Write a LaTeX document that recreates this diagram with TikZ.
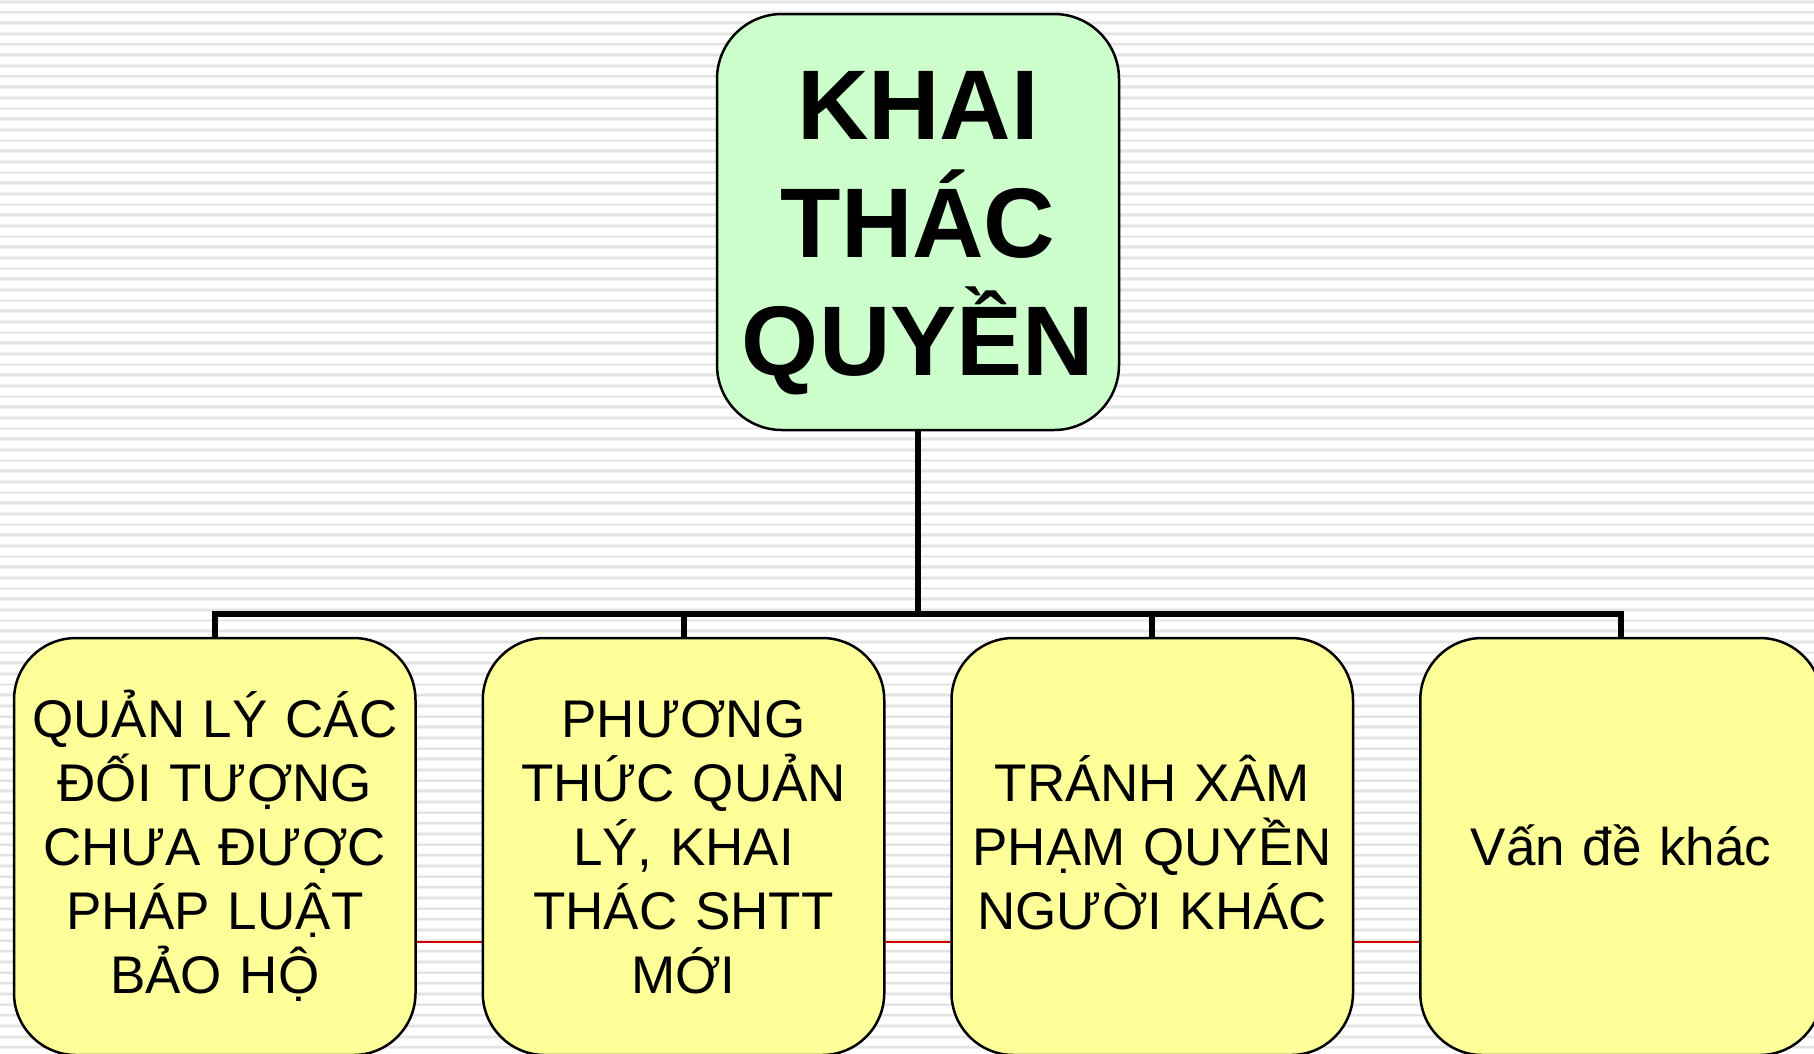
\documentclass[tikz,border=0pt]{standalone}
\usepackage{fontspec}
\setmainfont{Liberation Sans}
\definecolor{boxgreen}{HTML}{CCFFCC}
\definecolor{boxyellow}{HTML}{FFFF99}
\definecolor{redrule}{HTML}{CC0000}
\newcommand\lstr{\rule[-18pt]{0pt}{74pt}}
\newcommand\tstr{\rule[-36pt]{0pt}{143pt}}
\newcommand\nolsk{\lineskiplimit=-300pt\relax}
\pgfdeclarelayer{stripes}
\pgfdeclarelayer{links}
\pgfsetlayers{stripes,links,main}
\tikzset{
  stripehalo/.style={draw=black!5, line width=3.6pt},
  stripecore/.style={draw=black!11, line width=1.8pt},
  topbox/.style={draw=black, fill=boxgreen, line width=2.5pt, rounded corners=65pt,
    minimum width=402pt, minimum height=416pt, inner sep=0pt, text width=395pt, align=center,
    font=\fontsize{99}{118}\selectfont\bfseries\nolsk},
  subbox/.style={draw=black, fill=boxyellow, line width=2.5pt, rounded corners=62pt,
    minimum width=401.5pt, minimum height=417pt, inner sep=0pt, text width=395pt, align=center,
    font=\fontsize{53}{64}\selectfont\nolsk},
  conn/.style={draw=black, line width=6pt},
  redline/.style={draw=redrule, line width=2pt}
}
\begin{document}
\begin{tikzpicture}[x=1pt,y=-1pt]
\useasboundingbox (0,0) rectangle (1814,1053);
\clip (0,0) rectangle (1814,1053);
\begin{pgfonlayer}{stripes}
\fill[white] (0,0) rectangle (1814,1053);
\foreach \i in {0,...,99}{
  \draw[stripehalo] (0,1.7+\i*10.67) -- (1814,1.7+\i*10.67);
  \draw[stripecore] (0,1.7+\i*10.67) -- (1814,1.7+\i*10.67);
}
\end{pgfonlayer}
\coordinate (bus) at (918,614);
\coordinate (rl) at (0,942);
% boxes
\node[topbox] (top) at (918,222) {\tstr KHAI\\\tstr THÁC\\\tstr QUYỀN};
\node[subbox] (b1) at (214.75,846.5) {\lstr QUẢN LÝ CÁC\\\lstr ĐỐI TƯỢNG\\\lstr CHƯA ĐƯỢC\\\lstr PHÁP LUẬT\\\lstr BẢO HỘ};
\node[subbox] (b2) at (683.5,846.5) {\lstr PHƯƠNG\\\lstr THỨC QUẢN\\\lstr LÝ, KHAI\\\lstr THÁC SHTT\\\lstr MỚI};
\node[subbox] (b3) at (1152.25,846.5) {\lstr TRÁNH XÂM\\\lstr PHẠM QUYỀN\\\lstr NGƯỜI KHÁC};
\node[subbox] (b4) at (1621,846.5) {\lstr Vấn đề khác};
% connectors (behind boxes)
\begin{pgfonlayer}{links}
\draw[conn] (top.south) -- (bus);
\draw[conn] (b1.north) |- (bus) -| (b4.north);
\draw[conn] (b2.north) -- (b2.north |- bus);
\draw[conn] (b3.north) -- (b3.north |- bus);
\draw[redline] (b1.east |- rl) -- (b2.west |- rl);
\draw[redline] (b2.east |- rl) -- (b3.west |- rl);
\draw[redline] (b3.east |- rl) -- (b4.west |- rl);
\end{pgfonlayer}
\end{tikzpicture}
\end{document}
